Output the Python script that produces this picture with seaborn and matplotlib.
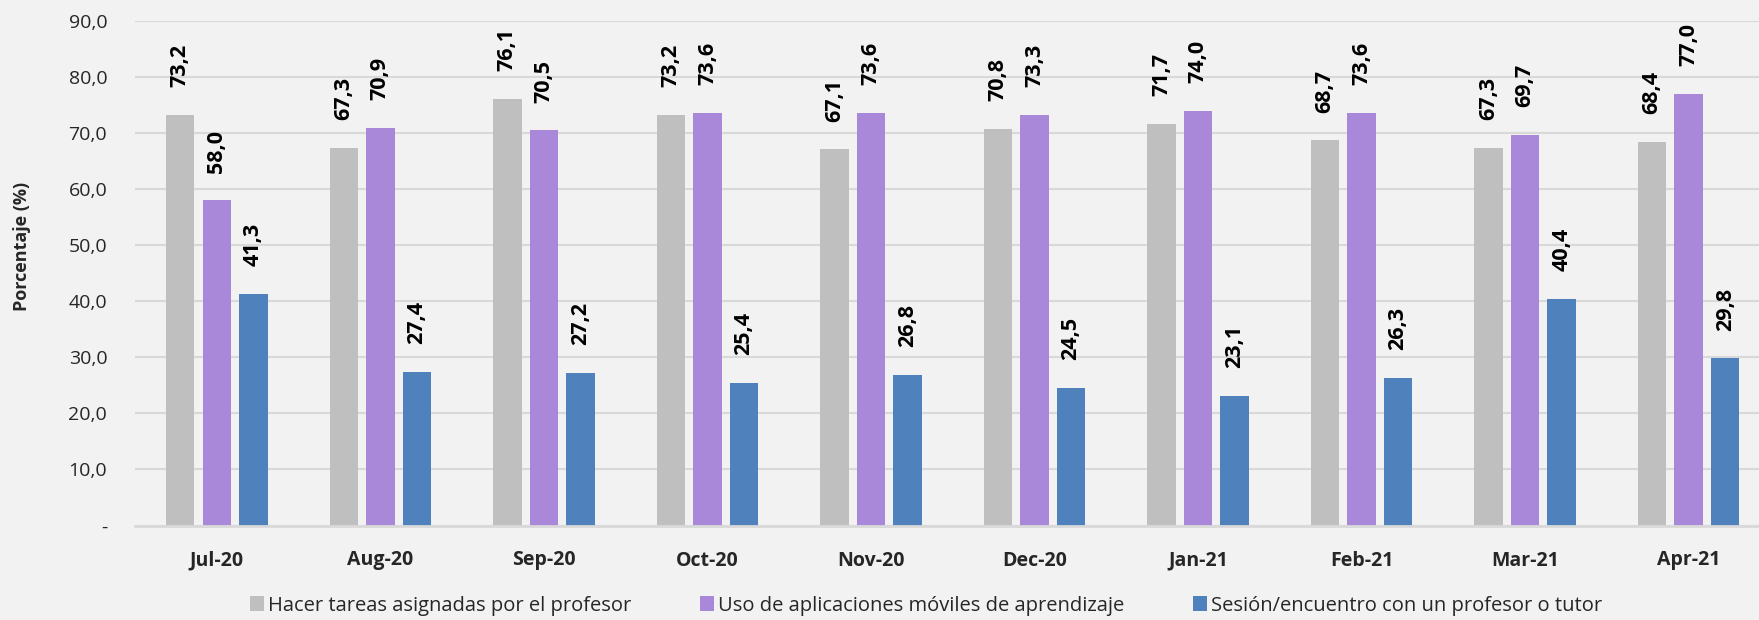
import numpy as np
import pandas as pd
import matplotlib
matplotlib.use("Agg")
import matplotlib.pyplot as plt
import seaborn as sns
from matplotlib.ticker import FuncFormatter

months = ["Jul-20", "Aug-20", "Sep-20", "Oct-20", "Nov-20",
          "Dec-20", "Jan-21", "Feb-21", "Mar-21", "Apr-21"]
series_names = ["Hacer tareas asignadas por el profesor",
                "Uso de aplicaciones móviles de aprendizaje",
                "Sesión/encuentro con un profesor o tutor"]
tareas = [73.2, 67.3, 76.1, 73.2, 67.1, 70.8, 71.7, 68.7, 67.3, 68.4]
aplicaciones = [58.0, 70.9, 70.5, 73.6, 73.6, 73.3, 74.0, 73.6, 69.7, 77.0]
sesion = [41.3, 27.4, 27.2, 25.4, 26.8, 24.5, 23.1, 26.3, 40.4, 29.8]
colors = ["#BFBFBF", "#A987D9", "#4F81BD"]

bg = "#F2F2F2"
grid_color = "#D9D9D9"

sns.set_style("white")
plt.rcParams["font.family"] = ["Open Sans", "DejaVu Sans"]

# long format for seaborn
df = pd.DataFrame({
    "mes": months * 3,
    "serie": np.repeat(series_names, len(months)),
    "valor": tareas + aplicaciones + sesion,
})

fig = plt.figure(figsize=(17.59, 6.2), dpi=100, facecolor=bg)
ax = fig.add_axes([135 / 1759, 1 - 525.5 / 620, 1624 / 1759, (525.5 - 21) / 620])
ax.set_facecolor(bg)

sns.barplot(data=df, x="mes", y="valor", hue="serie", palette=colors,
            width=0.67, gap=0.22, ax=ax, saturation=1, linewidth=0,
            legend=True)

for cont, vals in zip(ax.containers, [tareas, aplicaciones, sesion]):
    ax.bar_label(cont, labels=[f"{v:.1f}".replace(".", ",") for v in vals],
                 rotation=90, padding=20, fontsize=15.5, fontweight="bold",
                 color="black")

ax.set_ylim(0, 90)
ax.set_xlim(-0.5, 9.43)
ax.set_yticks(np.arange(0, 91, 10))
ax.yaxis.set_major_formatter(FuncFormatter(
    lambda v, p: "-" if v == 0 else f"{v:.1f}".replace(".", ",")))
ax.grid(axis="y", color=grid_color, linewidth=1.5)
ax.set_axisbelow(True)
for s in ["top", "right", "left"]:
    ax.spines[s].set_visible(False)
ax.spines["bottom"].set_color(grid_color)
ax.spines["bottom"].set_linewidth(2)
ax.tick_params(axis="both", length=0)
ax.tick_params(axis="y", labelsize=14, pad=20, colors="#262626")
ax.tick_params(axis="x", labelsize=14, pad=18)
for lbl in ax.get_xticklabels():
    lbl.set_fontweight("bold")
ax.set_xlabel("")
ax.set_ylabel("Porcentaje (%)", fontsize=13, fontweight="bold")
ax.yaxis.set_label_coords(-0.064, 0.554)

handles, labels = ax.get_legend_handles_labels()
ax.get_legend().remove()
fig.legend(handles, labels, loc="lower center", bbox_to_anchor=(0.5265, -0.022),
           ncol=3, frameon=False, fontsize=14.5, handlelength=0.7,
           handleheight=0.7, handletextpad=0.2, columnspacing=3.4)

fig.savefig("out.png", dpi=100, facecolor=bg)
